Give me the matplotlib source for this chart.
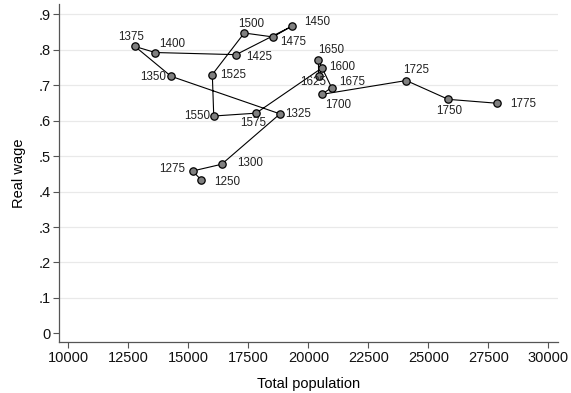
import matplotlib.pyplot as plt

plt.rcParams['font.family'] = ['Liberation Sans', 'DejaVu Sans']

# Benchmark years with total population and real wage
years = [1250, 1275, 1300, 1325, 1350, 1375, 1400, 1425, 1450, 1475, 1500,
         1525, 1550, 1575, 1600, 1625, 1650, 1675, 1700, 1725, 1750, 1775]
population = [15520, 15180, 16390, 18820, 14280, 12780, 13620, 16990, 19310,
              18520, 17330, 16000, 16060, 17820, 20580, 20430, 20420, 20970,
              20560, 24080, 25830, 27860]
real_wage = [0.434, 0.458, 0.477, 0.619, 0.725, 0.809, 0.792, 0.786, 0.866,
             0.836, 0.847, 0.730, 0.613, 0.621, 0.749, 0.725, 0.770, 0.693,
             0.674, 0.713, 0.660, 0.649]

x_ticks = [10000, 12500, 15000, 17500, 20000, 22500, 25000, 27500, 30000]
y_ticks = [0, 0.1, 0.2, 0.3, 0.4, 0.5, 0.6, 0.7, 0.8, 0.9]
y_tick_labels = ['0', '.1', '.2', '.3', '.4', '.5', '.6', '.7', '.8', '.9']

# Where each year label sits relative to its marker: (dx, dy) in pixels, alignment
label_offsets = {
    1250: (13, -2, 'left'), 1275: (-7, 2, 'right'), 1300: (16, 1, 'left'),
    1325: (5, 0, 'left'), 1350: (-5, -1, 'right'), 1375: (-4, 9, 'center'),
    1400: (4, 9, 'left'), 1425: (10, -2, 'left'), 1450: (12, 4, 'left'),
    1475: (7, -5, 'left'), 1500: (7, 9, 'center'), 1525: (8, 0, 'left'),
    1550: (-4, 0, 'right'), 1575: (-3, -10, 'center'), 1600: (7, 1, 'left'),
    1625: (-5, -6, 'center'), 1650: (13, 10, 'center'), 1675: (8, 6, 'left'),
    1700: (16, -11, 'center'), 1725: (10, 11, 'center'), 1750: (1, -12, 'center'),
    1775: (13, -1, 'left'),
}


def plot_wage_population():
    """
    Draws real wage against total population as a connected scatter,
    one labelled marker per benchmark year.
    """
    fig = plt.figure(figsize=(5.71, 3.93), dpi=100)
    ax = fig.add_axes([0.1033, 0.129, 0.874, 0.861])

    ax.plot(population, real_wage, color='black', linewidth=0.8, zorder=2)
    ax.plot(population, real_wage, linestyle='none', marker='o', markersize=5.3,
            markerfacecolor='#808080', markeredgecolor='black',
            markeredgewidth=0.9, zorder=3)

    for yr, px, wage in zip(years, population, real_wage):
        dx, dy, ha = label_offsets[yr]
        ax.annotate(str(yr), (px, wage), xytext=(dx, dy),
                    textcoords='offset pixels', ha=ha, va='center',
                    fontsize=8.4, color='#222222', zorder=4)

    # Axes, ticks and grid
    ax.set_xlim(9612, 30404)
    ax.set_ylim(-0.025, 0.929)
    ax.set_xticks(x_ticks)
    ax.set_yticks(y_ticks)
    ax.set_yticklabels(y_tick_labels)
    for y in y_ticks[1:]:
        ax.axhline(y, color='#e9e9e9', linewidth=0.9, zorder=0)

    for side in ['top', 'right']:
        ax.spines[side].set_visible(False)
    for side in ['left', 'bottom']:
        ax.spines[side].set_color('#555555')
        ax.spines[side].set_linewidth(0.9)
    ax.tick_params(direction='out', length=4, width=0.8, color='#555555',
                   labelsize=10.5, labelcolor='#111111', pad=2)

    ax.set_xlabel('Total population', fontsize=10.5, labelpad=9)
    ax.set_ylabel('Real wage', fontsize=10.5, labelpad=9)

    fig.savefig('out.png', dpi=100)


if __name__ == '__main__':
    plot_wage_population()
